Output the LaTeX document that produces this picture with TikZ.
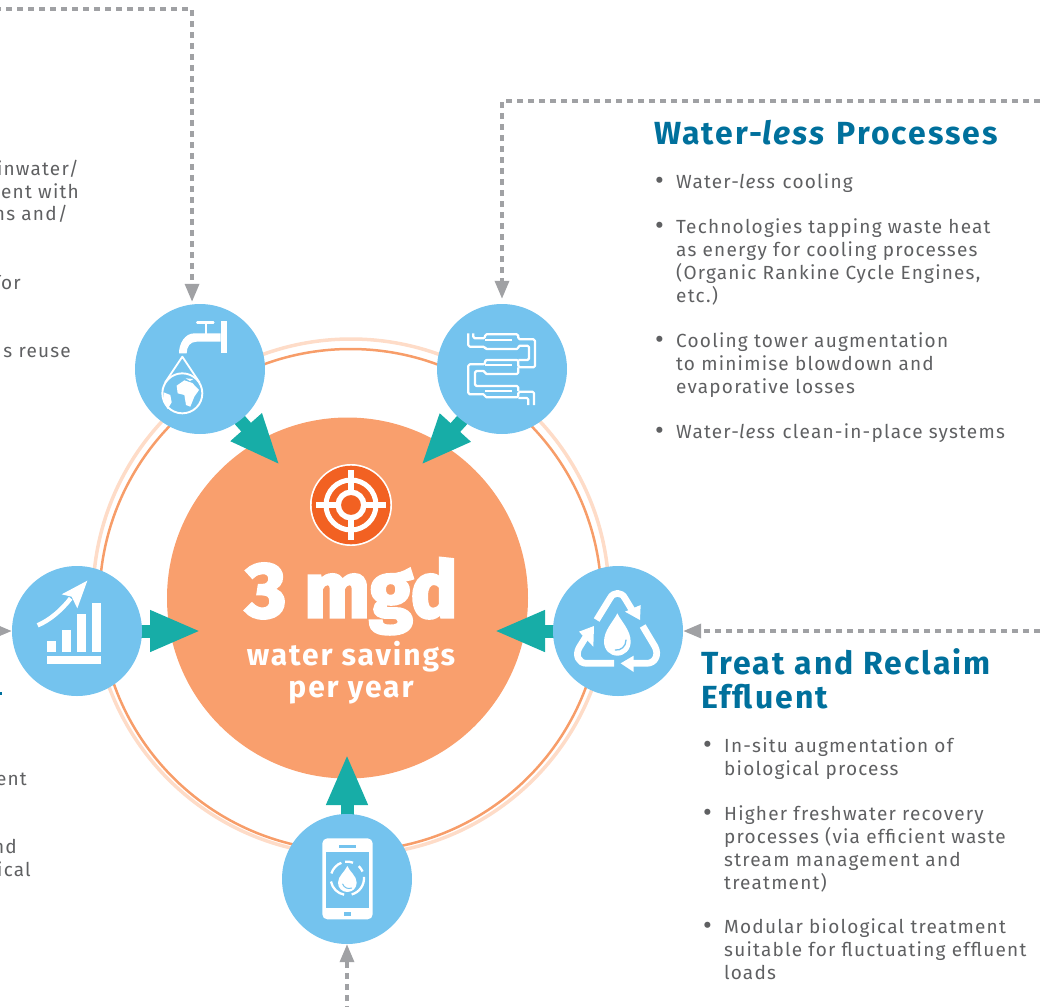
\documentclass[tikz,border=0pt]{standalone}
\usepackage{fontspec}
\setmainfont[LetterSpace=6.4]{Fira Sans}
\newfontfamily\hv[BoldFeatures={FakeBold=4}]{Fira Sans}
\usetikzlibrary{arrows.meta,backgrounds}
\definecolor{disc}{HTML}{74C3EE}
\definecolor{bigc}{HTML}{F99F6D}
\definecolor{ringa}{HTML}{F79D69}
\definecolor{ringb}{HTML}{FEDCC8}
\definecolor{tealc}{HTML}{17ADA7}
\definecolor{greyc}{HTML}{A0A1A4}
\definecolor{headc}{HTML}{00709C}
\definecolor{bodyc}{HTML}{5F6062}
\definecolor{targ}{HTML}{F26122}
\pgfdeclarelayer{back}
\pgfsetlayers{back,background,main}
\newcommand{\bl}{\makebox[18pt][l]{\hspace*{-3pt}\raisebox{-1.5pt}{\fontsize{27}{23}\selectfont •}}}
\newcommand{\ind}{\hspace*{18pt}}
\tikzset{
  feeder/.style={circle,fill=disc,minimum size=130pt,inner sep=0pt},
  push/.style={draw=tealc,line width=13pt,shorten <=-3pt,shorten >=-3pt,-{Triangle[length=51pt,width=38pt,fill=tealc]}},
  dotted link/.style={draw=greyc,line width=3.4pt,dash pattern=on 6pt off 5pt,-{Triangle[length=18pt,width=14pt,fill=greyc]}},
  heading/.style={anchor=north west,inner sep=0pt,align=left,text=headc,font=\fontsize{32}{34}\selectfont\bfseries},
  bodytext/.style={anchor=north west,inner sep=0pt,align=left,text=bodyc,font=\fontsize{19}{23}\selectfont},
  cuttext/.style={anchor=base east,inner sep=0pt,text=bodyc,font=\fontsize{19}{23}\selectfont},
  centertext/.style={inner sep=0pt,text=white,font=\fontsize{30}{33}\selectfont\bfseries},
  pipe/.style={draw=white,line width=2.2pt,rounded corners=1.5pt,line join=round},
  zoomed/.style={x=0.33333pt,y=-0.33333pt}
}
\begin{document}
\begin{tikzpicture}[x=1pt,y=-1pt]
\useasboundingbox (0,0) rectangle (1045,1007);
\clip (0,0) rectangle (1045,1007);
% rings and centre
\begin{pgfonlayer}{back}
  \draw[ringb,line width=3.5pt] (351,597) circle[radius=258pt];
  \draw[ringa,line width=2.5pt] (350.5,600) circle[radius=251pt];
  \node[circle,fill=bigc,minimum size=361pt,inner sep=0pt] (big) at (347.5,598) {};
\end{pgfonlayer}
% feeders
\node[feeder] (tap) at (200,369) {};
\node[feeder] (coil) at (502,369) {};
\node[feeder] (recycle) at (618,631) {};
\node[feeder] (chart) at (77,631) {};
\node[feeder] (phone) at (347,879) {};
% teal arrows
\coordinate (t1) at (278,463);
\coordinate (t2) at (423,463);
\coordinate (t3) at (497,631);
\coordinate (t4) at (198,631);
\coordinate (t5) at (347,757);
\begin{pgfonlayer}{background}
  \draw[push] (tap.-52) -- (t1);
  \draw[push] (coil.232) -- (t2);
  \draw[push] (recycle.west) -- (t3);
  \draw[push] (chart.east) -- (t4);
  \draw[push] (phone.north) -- (t5);
\end{pgfonlayer}
% dotted links
\coordinate (s1) at (-5,9);
\coordinate (s2) at (1040,101);
\coordinate (s3) at (1040,631);
\coordinate (s4) at (-20,631);
\coordinate (s5) at (347,1012);
\draw[dotted link,shorten >=2.5pt] (s1) -| (tap.97);
\draw[dotted link,shorten >=5pt] (s2) -| (coil.north);
\draw[dotted link] (s3) -- (recycle.east);
\draw[dotted link] (s4) -- (chart.west);
\draw[dotted link] (s5) -- (phone.south);
\fill[headc] (0,692) rectangle (2,695);
% target icon
\fill[white] (351,505) circle[radius=41pt];
\fill[targ] (351,505) circle[radius=39.3pt];
\draw[white,line width=5pt] (351,505) circle[radius=25pt];
\draw[white,line width=5.5pt] (351,505) circle[radius=12.8pt];
\draw[white,line width=6pt] (316,505) -- (337,505) (365,505) -- (386,505) (351,470) -- (351,491) (351,519) -- (351,540);
% tap icon
\begin{scope}[shift={(155,315)},zoomed]
  \fill[white] (197,18) rectangle (215,115);
  \fill[white] (197,55) -- (118,55) .. controls (90,55) and (72,85) .. (72,115) -- (95,115) .. controls (95,95) and (105,80) .. (125,80) -- (197,80) -- cycle;
  \draw[white,line width=2.6pt,line cap=round] (127,22) -- (175,22);
  \draw[white,line width=2pt] (152,22) -- (152,56);
  \draw[white,line width=1.8pt,line join=round] (30,203) -- (82,125) -- (134,203);
  \draw[white,line width=1.9pt] (82,235) circle[radius=60];
  \fill[white] (65,212) -- (88,196) -- (112,204) -- (132,225) -- (118,245) -- (106,275) -- (93,270) -- (88,240) -- (68,235) -- cycle;
  \fill[white] (26,232) -- (46,240) -- (50,262) -- (38,282) -- (26,262) -- cycle;
  \fill[white] (92,190) -- (115,192) -- (105,198) -- cycle;
\end{scope}
% coil icon
\begin{scope}[shift={(460,325)},zoomed]
  \draw[pipe] (40,25) -- (40,40) -- (75,40) -- (75,28) -- (175,28) -- (175,43) -- (225,43) -- (225,127) -- (175,127) -- (175,105) -- (75,105) -- (75,118) -- (25,118) -- (25,208) -- (75,208) -- (75,217) -- (175,217) -- (175,200) -- (222,200) -- (222,240);
  \draw[pipe] (25,25) -- (25,65) -- (75,65) -- (75,72) -- (175,72) -- (175,62) -- (207,62) -- (207,105) -- (175,105);
  \draw[pipe] (75,44) -- (157,44) (75,120) -- (157,120) (75,198) -- (157,198);
  \draw[pipe] (175,127) -- (175,147) -- (75,147) -- (75,138) -- (45,138) -- (45,183) -- (175,183) -- (175,198);
  \draw[pipe] (205,240) -- (205,219) -- (175,219);
\end{scope}
% recycle icon
\begin{scope}[shift={(530,550)},zoomed]
  \draw[white,line width=6.7pt,line join=round] (200,210) -- (240,145) .. controls (250,125) and (275,125) .. (285,145) -- (308,183);
  \fill[white] (332,165) -- (330,210) -- (285,185) -- cycle;
  \draw[white,line width=6.7pt,line join=round] (338,228) -- (375,290) .. controls (388,315) and (375,340) .. (350,340) -- (305,340);
  \fill[white] (272,340) -- (311,317) -- (311,366) -- cycle;
  \draw[white,line width=6.7pt,line join=round] (252,340) -- (170,340) .. controls (145,340) and (135,315) .. (148,292) -- (168,260);
  \fill[white] (192,228) -- (147,245) -- (190,290) -- cycle;
  \fill[white] (262,190) .. controls (250,215) and (222,240) .. (222,275) .. controls (222,300) and (240,317) .. (262,317) .. controls (284,317) and (302,300) .. (302,275) .. controls (302,240) and (274,215) .. (262,190) -- cycle;
  \draw[disc,line width=1.3pt,line cap=round] (256,300) .. controls (272,302) and (288,290) .. (288,270);
\end{scope}
% chart icon
\begin{scope}[shift={(0,550)},zoomed]
  \fill[white] (142,272) rectangle (168,306);
  \fill[white] (187,240) rectangle (213,306);
  \fill[white] (232,192) rectangle (258,306);
  \fill[white] (277,158) rectangle (303,306);
  \fill[white] (142,317) rectangle (303,342);
  \draw[white,line width=4.5pt] (113,226) .. controls (150,210) and (185,180) .. (212,145);
  \fill[white] (262,92) -- (185,133) -- (215,140) -- (232,175) -- cycle;
\end{scope}
% phone icon
\begin{scope}[shift={(270,750)},zoomed]
  \fill[white,rounded corners=5pt] (157,265) rectangle (308,508);
  \fill[disc] (167,305) rectangle (298,473);
  \fill[disc] (207,286) rectangle (258,294);
  \fill[disc] (222,485) rectangle (242,497);
  \foreach \a/\b in {197/249,262/290,313/336,-5/75,101/169}
    \draw[white,line width=2.3pt] (232,385) ++(\a:50) arc[start angle=\a,end angle=\b,radius=50];
  \fill[white] (232,348) .. controls (225,365) and (204,378) .. (204,398) .. controls (204,414) and (216,426) .. (232,426) .. controls (248,426) and (260,414) .. (260,398) .. controls (260,378) and (239,365) .. (232,348) -- cycle;
  \draw[disc,line width=1pt,line cap=round] (218,402) .. controls (222,414) and (235,418) .. (245,414);
\end{scope}
% centre text
\node[inner sep=0pt,text=white,anchor=base] (amount) at (351.5,617) {\hv\fontsize{77.5}{80}\selectfont\bfseries 3 mgd};
\node[centertext,anchor=base] (savings) at (351,665) {water savings};
\node[centertext,anchor=base] (peryear) at (351,697) {per year};
% right text
\node[heading] (hwl) at (654,120) {Water-\textit{less} Processes};
\node[bodytext] (b1) at (658,173) {\bl Water-\textit{less} cooling};
\node[bodytext] (b2) at (658,218) {\bl Technologies tapping waste heat\\\ind as energy for cooling processes\\\ind (Organic Rankine Cycle Engines,\\\ind etc.)};
\node[bodytext] (b3) at (658,332) {\bl Cooling tower augmentation\\\ind to minimise blowdown and\\\ind evaporative losses};
\node[bodytext] (b4) at (658,423) {\bl Water-\textit{less} clean-in-place systems};
\node[heading] (htr) at (701,648) {Treat and Reclaim\\Effluent};
\node[bodytext] (b5) at (706,737) {\bl In-situ augmentation of\\\ind biological process};
\node[bodytext] (b6) at (706,805) {\bl Higher freshwater recovery\\\ind processes (via efficient waste\\\ind stream management and\\\ind treatment)};
\node[bodytext] (b7) at (706,918) {\bl Modular biological treatment\\\ind suitable for fluctuating effluent\\\ind loads};
% cut-off text at the left edge
\node[cuttext] (c1) at (79,175) {inwater/};
\node[cuttext] (c2) at (79,198) {ent with};
\node[cuttext] (c3) at (68,220) {ns and/};
\node[cuttext] (c4) at (21,289) {for};
\node[cuttext] (c5) at (71,357) {s reuse};
\node[cuttext] (c6) at (27,785) {ent};
\node[cuttext] (c7) at (17,853) {nd};
\node[cuttext] (c8) at (31,876) {ical};
\end{tikzpicture}
\end{document}
